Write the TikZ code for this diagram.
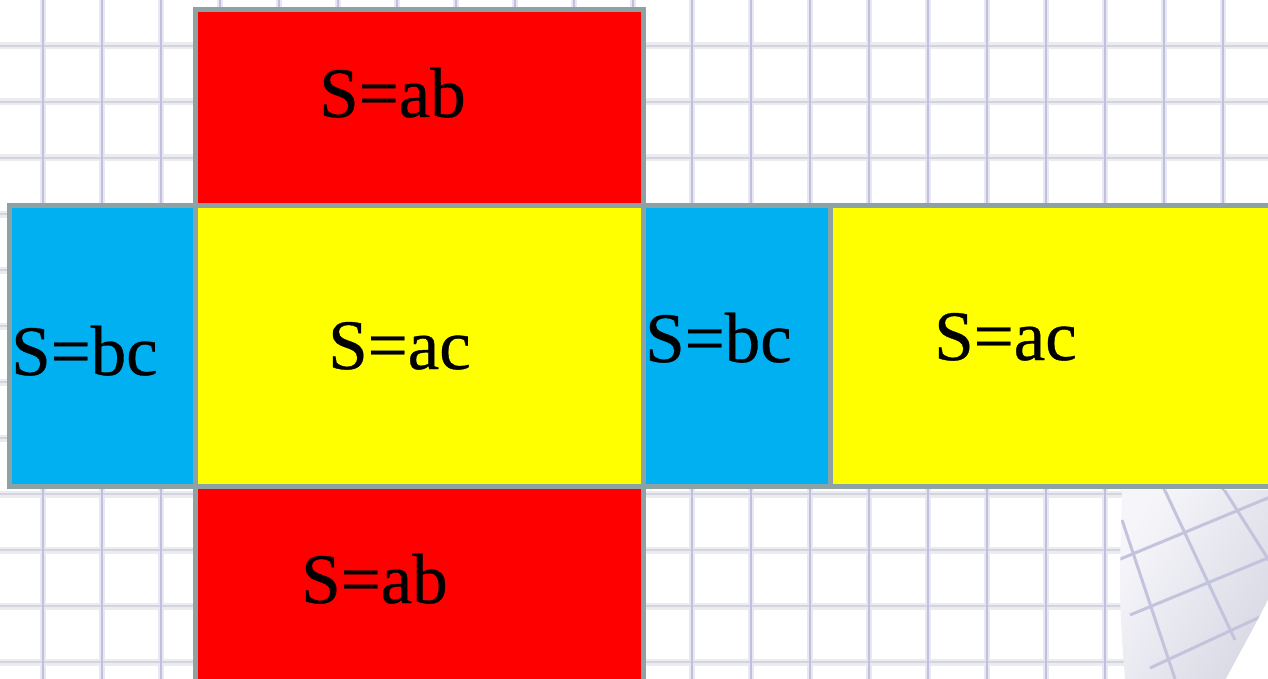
\documentclass[tikz,border=0pt]{standalone}
\usepackage{fontspec}
\setmainfont{Liberation Serif}
\newfontfamily\lblfont{Liberation Serif}[FakeBold=0.5]
\definecolor{bordergray}{RGB}{140,162,165}
\definecolor{netred}{RGB}{255,0,0}
\definecolor{netyellow}{RGB}{255,255,0}
\definecolor{netblue}{RGB}{0,176,240}
\definecolor{gridv}{RGB}{192,192,220}
\definecolor{gridvsoft}{RGB}{232,232,244}
\definecolor{gridh}{RGB}{212,212,222}
\definecolor{gridhsoft}{RGB}{236,236,240}
\definecolor{curlL}{RGB}{246,246,250}
\definecolor{curlR}{RGB}{218,218,230}
\definecolor{curlline}{RGB}{195,195,222}
\begin{document}
\begin{tikzpicture}[x=1pt,y=-1pt,
  face/.style={draw=bordergray, line width=5pt},
  lbl/.style={anchor=base west, inner sep=0pt, font=\lblfont\fontsize{71}{80}\selectfont},
  vsoft/.style={draw=gridvsoft, line width=6pt},
  vline/.style={draw=gridv, line width=2pt},
  hsoft/.style={draw=gridhsoft, line width=7pt},
  hline/.style={draw=gridh, line width=2.5pt},
  cline/.style={draw=curlline, line width=3pt}]
\useasboundingbox (0,0) rectangle (1268,679);
\clip (0,0) rectangle (1268,679);
\fill[white] (0,0) rectangle (1268,679);
% grid paper
\foreach \y in {46,102,...,679} \draw[hsoft] (0,\y) -- (1268,\y);
\foreach \x in {43,102,...,1268} \draw[vsoft] (\x,0) -- (\x,679);
\foreach \y in {46,102,...,679} \draw[hline] (0,\y) -- (1268,\y);
\foreach \x in {43,102,...,1268} \draw[vline] (\x,0) -- (\x,679);
% page curl
\path[left color=curlL, right color=curlR, shading angle=60]
  (1122,490) -- (1268,490) -- (1268,600)
  .. controls (1252,632) and (1238,656) .. (1226,679)
  -- (1125,679) .. controls (1119,600) .. (1122,490) -- cycle;
\begin{scope}
  \clip (1122,490) -- (1268,490) -- (1268,600)
  .. controls (1252,632) and (1238,656) .. (1226,679)
  -- (1125,679) .. controls (1119,600) .. (1122,490) -- cycle;
  \draw[cline] (1160,480) -- (1235,640);
  \draw[cline] (1218,480) -- (1275,570);
  \draw[cline] (1122,520) -- (1175,679);
  \draw[cline] (1118,560) -- (1275,495);
  \draw[cline] (1130,615) -- (1275,555);
  \draw[cline] (1150,668) -- (1275,610);
\end{scope}
\fill[white] (1268,600) .. controls (1252,632) and (1238,656) .. (1226,679)
  -- (1268,679) -- cycle;
% net faces
\filldraw[face, fill=netred] (195.5,9.5) rectangle (643.5,205.5);
\filldraw[face, fill=netblue] (9,205.5) rectangle (195.5,486);
\filldraw[face, fill=netyellow] (195.5,205.5) rectangle (643.5,486);
\filldraw[face, fill=netblue] (643.5,205.5) rectangle (830,486);
\filldraw[face, fill=netyellow] (830,205.5) rectangle (1290,486);
\filldraw[face, fill=netred] (195.5,486) rectangle (643.5,700);
% labels
\node[lbl] (ab1) at (319,117) {S=ab};
\node[lbl] (bc1) at (11,375) {S=bc};
\node[lbl] (ac1) at (328,369) {S=ac};
\node[lbl] (bc2) at (645,362) {S=bc};
\node[lbl] (ac2) at (934,360) {S=ac};
\node[lbl] (ab2) at (301,603) {S=ab};
\end{tikzpicture}
\end{document}
